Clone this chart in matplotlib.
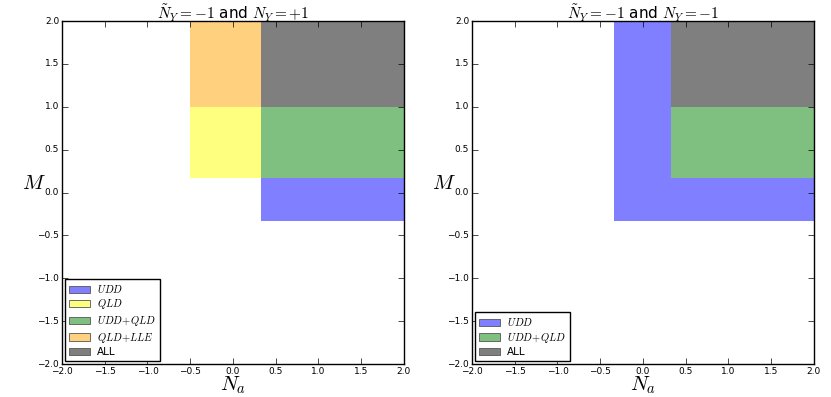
import matplotlib
matplotlib.use("Agg")
import matplotlib.pyplot as plt
import numpy as np

plt.style.use("classic")

# regions: label, colour, (x0, x1, y0, y1)
left_names = [r"$UDD$", r"$QLD$", r"$UDD\!+\!QLD$", r"$QLD\!+\!LLE$", "ALL"]
left_colors = ["blue", "yellow", "green", "orange", "black"]
left_boxes = [(1/3, 2, -1/3, 1/6), (-0.5, 1/3, 1/6, 1), (1/3, 2, 1/6, 1),
              (-0.5, 1/3, 1, 2), (1/3, 2, 1, 2)]

right_names = [r"$UDD$", r"$UDD$", r"$UDD\!+\!QLD$", "ALL"]
right_colors = ["blue", "blue", "green", "black"]
right_boxes = [(-1/3, 1/3, -1/3, 2), (1/3, 2, -1/3, 1/6), (1/3, 2, 1/6, 1), (1/3, 2, 1, 2)]

titles = [r"$\tilde{N}_Y=-1$ and $N_Y=+1$", r"$\tilde{N}_Y=-1$ and $N_Y=-1$"]

fig = plt.figure(figsize=(8.31, 3.97), dpi=100)
fig.patch.set_facecolor("white")
ax1 = fig.add_axes([0.0746, 0.083, 0.4115, 0.864])
ax2 = fig.add_axes([0.568, 0.083, 0.4115, 0.864])

for ax, names, cols, boxes, t in [(ax1, left_names, left_colors, left_boxes, titles[0]),
                                  (ax2, right_names, right_colors, right_boxes, titles[1])]:
    seen = set()
    for n, c, b in zip(names, cols, boxes):
        lab = n if n not in seen else None
        seen.add(n)
        ax.fill_between([b[0], b[1]], b[2], b[3], facecolor=c, edgecolor="none",
                        alpha=0.5, lw=0, label=lab)
    ax.set_xlim(-2, 2)
    ax.set_ylim(-2, 2)
    ax.set_xticks(np.arange(-2, 2.01, 0.5))
    ax.set_yticks(np.arange(-2, 2.01, 0.5))
    ax.tick_params(labelsize=6.5, pad=2)
    ax.set_xlabel(r"$N_a$", fontsize=15)
    ax.set_ylabel(r"$M$", fontsize=15, rotation=0)
    ax.xaxis.set_label_coords(0.5, -0.03)
    ax.yaxis.set_label_coords(-0.082, 0.5)
    ax.set_title(t, fontsize=11, y=0.985)
    leg = ax.legend(loc="lower left", fontsize=7.5, borderaxespad=0.25, handlelength=2.0,
                    labelspacing=0.25, handletextpad=0.7)
    for h in leg.get_patches():
        h.set_edgecolor("#555555")
        h.set_linewidth(0.6)

fig.savefig("out.png", dpi=100, facecolor="white")
